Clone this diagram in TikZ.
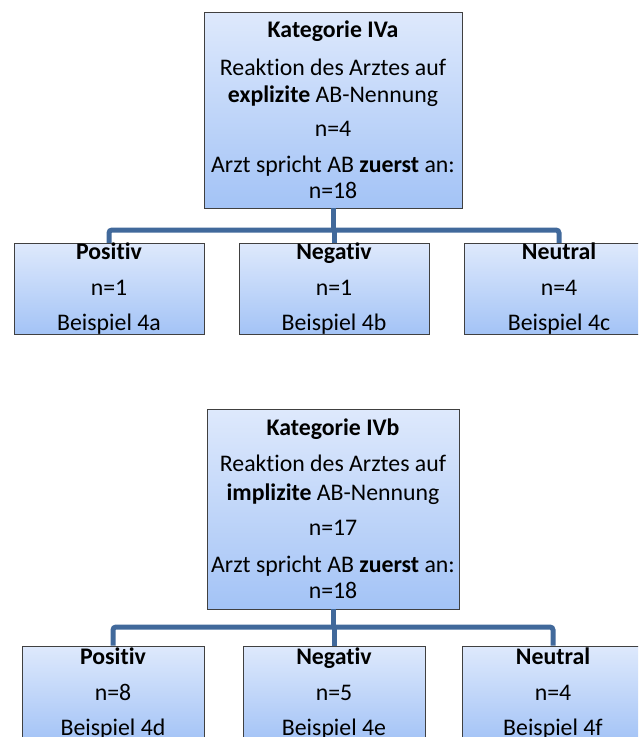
\documentclass[tikz,border=0pt]{standalone}
\usepackage{fontspec}
\setmainfont[RawFeature={-liga;-clig;-calt;-dlig}]{Carlito}
\begin{document}
\begin{tikzpicture}[x=1pt,y=-1pt,
  every node/.style={font=\fontsize{23.8}{27}\selectfont, align=center, inner sep=0pt},
  catbox/.style={draw=black!75, line width=0.9pt, top color=topblue, bottom color=botblue,
                 minimum width=#1},
  catbox/.default=190,
  conn/.style={draw=linkblue, line width=5pt, rounded corners=3pt}]
\definecolor{topblue}{RGB}{222,233,252}
\definecolor{botblue}{RGB}{163,195,246}
\definecolor{linkblue}{RGB}{65,105,155}
\useasboundingbox (0,0) rectangle (638,737);
\clip (0,0) rectangle (638,737);

% ---- Kategorie IVa ----
\node[catbox=258, minimum height=196] (IVa) at (333,110)
  {\textbf{Kategorie IVa}\\[11pt]
   Reaktion des Arztes auf\\
   \textbf{explizite} AB-Nennung\\[7pt]
   n=4\\[9pt]
   Arzt spricht AB \textbf{zuerst} an:\\[-1pt]
   n=18};
\node[catbox, minimum height=84] (posA) at (109,289)
  {\textbf{Positiv}\\[9pt] n=1\\[8pt] Beispiel 4a};
\node[catbox, minimum height=84] (negA) at (334,289)
  {\textbf{Negativ}\\[9pt] n=1\\[8pt] Beispiel 4b};
\node[catbox, minimum height=84] (neuA) at (559,289)
  {\textbf{Neutral}\\[9pt] n=4\\[8pt] Beispiel 4c};
\coordinate (barA) at (333,230);
\draw[conn] (IVa.south) -- (IVa.south |- barA);
\draw[conn] (posA.north) |- (barA) -| (neuA.north);
\draw[conn] (negA.north) -- (negA.north |- barA);

% ---- Kategorie IVb ----
\node[catbox=252, minimum height=200] (IVb) at (333,509)
  {\textbf{Kategorie IVb}\\[9pt]
   Reaktion des Arztes auf\\[2pt]
   \textbf{implizite} AB-Nennung\\[8pt]
   n=17\\[10pt]
   Arzt spricht AB \textbf{zuerst} an:\\[-1pt]
   n=18};
\node[catbox=182, minimum height=96] (posB) at (113,694)
  {\textbf{Positiv}\\[9pt] n=8\\[8pt] Beispiel 4d};
\node[catbox=182, minimum height=96] (negB) at (334,694)
  {\textbf{Negativ}\\[9pt] n=5\\[8pt] Beispiel 4e};
\node[catbox=182, minimum height=96] (neuB) at (553,694)
  {\textbf{Neutral}\\[9pt] n=4\\[8pt] Beispiel 4f};
\coordinate (barB) at (333,627);
\draw[conn] (IVb.south) -- (IVb.south |- barB);
\draw[conn] (posB.north) |- (barB) -| (neuB.north);
\draw[conn] (negB.north) -- (negB.north |- barB);
\end{tikzpicture}
\end{document}
